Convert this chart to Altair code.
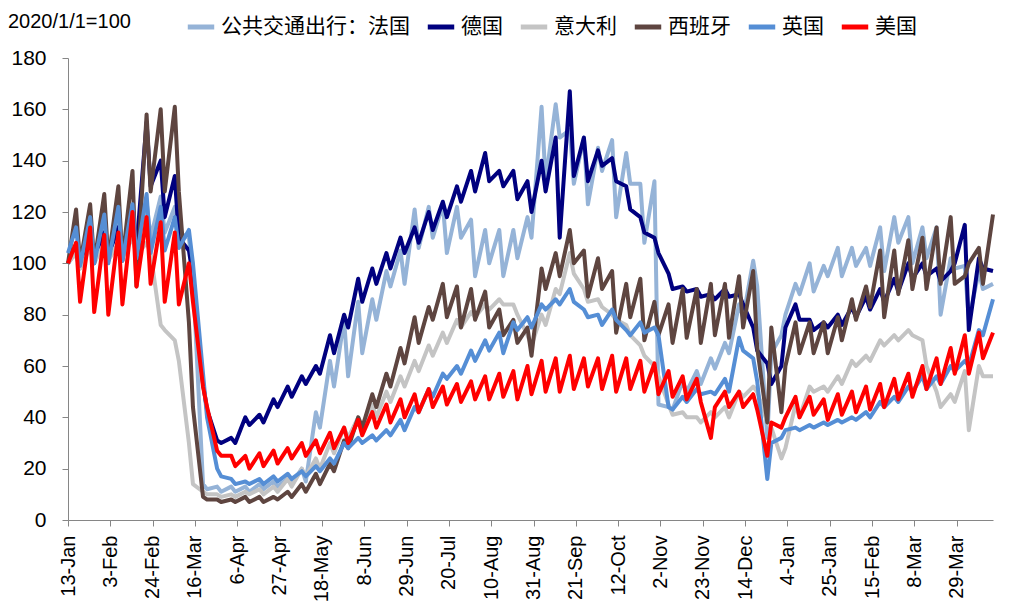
import datetime as dt
import altair as alt
import pandas as pd

# ---- series names (legend order) and colours ----
series = ["公共交通出行：法国", "德国", "意大利", "西班牙", "英国", "美国"]
colors = ["#95B3D7", "#00007F", "#C4C4C4", "#5E4540", "#558ED5", "#FF0000"]
index_note = ["2020/1/1=100"]

# value on Mon 13-Jan-2020 (first point)
start = [102, 100, 100, 100, 104, 100]

# weekly readings: Friday value and Sunday value of each week (weeks start Mon 13-Jan-2020)
france_fri = [103, 112, 114, 116, 118, 124, 126, 122, 110, 14,
              13, 13, 13, 14, 15, 16, 20, 42, 62, 78,
              85, 86, 97, 105, 121, 122, 123, 122, 117, 113,
              113, 113, 118, 161, 162, 152, 149, 145, 148, 143,
              131, 132, 44, 54, 58, 63, 69, 84, 101, 32,
              72, 92, 100, 99, 106, 106, 106, 114, 118, 118,
              114, 114, 102, 99, 97, 92]
france_sun = [98, 102, 104, 104, 106, 110, 112, 112, 95, 12,
              11, 11, 11, 12, 13, 14, 15, 36, 52, 56,
              65, 78, 91, 92, 106, 110, 104, 110, 95, 100,
              95, 102, 110, 132, 149, 131, 123, 136, 118, 131,
              108, 45, 43, 50, 53, 59, 65, 79, 91, 65,
              80, 88, 89, 95, 95, 99, 99, 97, 108, 100,
              102, 80, 98, 78, 90]

germany_fri = [105, 110, 112, 114, 118, 155, 140, 134, 105, 53,
               31, 32, 40, 41, 47, 52, 56, 60, 72, 80,
               94, 98, 104, 110, 114, 120, 124, 130, 136, 143,
               136, 136, 132, 140, 149, 167, 149, 144, 141, 130,
               118, 110, 96, 91, 90, 88, 90, 88, 75, 61,
               60, 84, 78, 77, 80, 83, 87, 90, 94, 100,
               100, 98, 97, 115, 102, 97]
germany_sun = [100, 101, 103, 104, 106, 130, 118, 110, 95, 43,
               30, 30, 37, 38, 44, 48, 53, 57, 65, 75,
               85, 92, 98, 104, 108, 113, 118, 124, 128, 132,
               130, 125, 120, 128, 110, 134, 132, 138, 132, 121,
               112, 104, 90, 89, 87, 86, 87, 84, 66, 53,
               75, 78, 74, 75, 76, 79, 82, 85, 89, 94,
               95, 93, 100, 74, 98]

italy_fri = [104, 106, 108, 108, 110, 108, 76, 70, 30, 11,
             10, 10, 11, 12, 13, 16, 20, 24, 30, 36,
             40, 45, 50, 56, 62, 68, 73, 78, 81, 84,
             86, 84, 72, 80, 90, 104, 90, 86, 80, 76,
             68, 60, 45, 42, 40, 42, 44, 50, 52, 38,
             24, 45, 52, 52, 56, 62, 64, 70, 72, 74,
             70, 50, 49, 58, 60, 56]
italy_sun = [98, 100, 101, 102, 103, 104, 74, 62, 14, 10,
             9, 9, 10, 10, 11, 13, 17, 20, 26, 32,
             36, 40, 46, 52, 58, 64, 69, 75, 79, 82,
             84, 80, 68, 76, 88, 96, 85, 83, 78, 72,
             64, 56, 41, 40, 38, 40, 40, 48, 50, 36,
             28, 40, 50, 50, 53, 60, 62, 68, 70, 72,
             60, 44, 46, 35, 56]

spain_fri = [121, 123, 127, 130, 136, 158, 160, 161, 77, 9,
             8, 8, 9, 9, 9, 11, 14, 18, 22, 31,
             40, 49, 57, 67, 79, 83, 92, 91, 90, 89,
             82, 78, 75, 98, 104, 113, 105, 102, 97, 92,
             94, 85, 84, 90, 90, 92, 92, 95, 97, 38,
             42, 77, 77, 77, 79, 86, 91, 105, 105, 109,
             110, 114, 118, 95, 106, 119]
spain_sun = [100, 100, 101, 101, 91, 128, 128, 128, 44, 8,
             7, 7, 7, 7, 8, 9, 11, 14, 19, 28,
             36, 44, 52, 61, 69, 78, 79, 75, 78, 75,
             72, 69, 64, 90, 95, 100, 87, 90, 73, 79,
             70, 72, 69, 71, 69, 72, 71, 75, 67, 75,
             60, 65, 65, 65, 70, 78, 83, 79, 88, 90,
             90, 92, 92, 100, 92]

uk_fri = [114, 118, 119, 122, 123, 127, 122, 118, 113, 57,
          20, 16, 15, 16, 17, 18, 19, 21, 24, 30,
          32, 33, 35, 39, 44, 51, 57, 60, 66, 70,
          73, 77, 79, 84, 86, 90, 82, 80, 82, 74,
          77, 75, 44, 48, 51, 50, 55, 71, 63, 16,
          32, 36, 37, 38, 39, 40, 42, 46, 48, 52,
          56, 56, 60, 62, 74, 86]
uk_sun = [99, 100, 100, 101, 102, 104, 105, 106, 100, 40,
          17, 14, 14, 14, 15, 16, 17, 19, 22, 28,
          30, 31, 33, 35, 42, 48, 55, 57, 62, 66,
          65, 74, 75, 82, 84, 85, 79, 76, 78, 72,
          73, 72, 43, 46, 49, 49, 50, 66, 54, 30,
          35, 35, 36, 37, 38, 39, 40, 44, 46, 50,
          51, 53, 58, 60, 72]

us_fri = [108, 114, 111, 112, 120, 118, 116, 112, 100, 52,
          27, 25, 25, 26, 27, 28, 30, 31, 34, 36,
          39, 42, 45, 47, 49, 51, 52, 53, 54, 56,
          57, 58, 60, 62, 63, 64, 63, 63, 64, 63,
          62, 61, 58, 56, 55, 32, 50, 50, 49, 25,
          36, 48, 48, 47, 49, 50, 52, 53, 55, 57,
          60, 63, 67, 72, 73, 73]
us_sun = [85, 81, 80, 84, 91, 92, 85, 84, 85, 44,
          25, 21, 20, 21, 22, 24, 25, 26, 28, 30,
          33, 36, 38, 40, 42, 44, 45, 46, 47, 47,
          48, 47, 49, 50, 50, 51, 52, 51, 50, 51,
          50, 49, 48, 47, 46, 44, 44, 44, 43, 38,
          40, 40, 41, 39, 41, 42, 43, 44, 47, 48,
          51, 53, 57, 57, 63]

# x-axis tick labels (every 21 days)
tick_dates = ["2020-01-13", "2020-02-03", "2020-02-24", "2020-03-16", "2020-04-06",
              "2020-04-27", "2020-05-18", "2020-06-08", "2020-06-29", "2020-07-20",
              "2020-08-10", "2020-08-31", "2020-09-21", "2020-10-12", "2020-11-02",
              "2020-11-23", "2020-12-14", "2021-01-04", "2021-01-25", "2021-02-15",
              "2021-03-08", "2021-03-29"]

fri_all = [france_fri, germany_fri, italy_fri, spain_fri, uk_fri, us_fri]
sun_all = [france_sun, germany_sun, italy_sun, spain_sun, uk_sun, us_sun]

first_monday = dt.date(2020, 1, 13)
rows = []
for i, name in enumerate(series):
    rows.append({"date": first_monday.isoformat(), "value": start[i], "series": name})
    for k, v in enumerate(fri_all[i]):
        d = first_monday + dt.timedelta(days=7 * k + 4)
        rows.append({"date": d.isoformat(), "value": v, "series": name})
    for k, v in enumerate(sun_all[i]):
        d = first_monday + dt.timedelta(days=7 * k + 6)
        rows.append({"date": d.isoformat(), "value": v, "series": name})
df = pd.DataFrame(rows)


def ymd(s):
    y, m, d = (int(t) for t in s.split("-"))
    return alt.DateTime(year=y, month=m, date=d, utc=True)


AXIS_FONT = "Liberation Sans"

lines = alt.Chart(df).mark_line(strokeWidth=4, strokeJoin="round").encode(
    x=alt.X(
        "date:T",
        scale=alt.Scale(type="utc", domain=[ymd("2020-01-13"), ymd("2021-04-16")]),
        axis=alt.Axis(
            values=[ymd(t) for t in tick_dates],
            format="%-d-%b",
            labelAngle=270,
            labelFont=AXIS_FONT,
            labelFontSize=20,
            labelColor="#000000",
            labelPadding=9,
            labelOverlap=False,
            labelFlush=False,
            tickSize=6,
            tickColor="#868686",
            domainColor="#868686",
            grid=False,
            title=None,
        ),
    ),
    y=alt.Y(
        "value:Q",
        scale=alt.Scale(domain=[0, 180], nice=False),
        axis=alt.Axis(
            values=list(range(0, 181, 20)),
            labelFont=AXIS_FONT,
            labelFontSize=21,
            labelColor="#000000",
            labelPadding=16,
            tickSize=6,
            tickColor="#868686",
            domainColor="#868686",
            grid=False,
            title=None,
        ),
    ),
    color=alt.Color(
        "series:N",
        scale=alt.Scale(domain=series, range=colors),
        sort=series,
        legend=alt.Legend(
            orient="none",
            legendX=117,
            legendY=-47,
            direction="horizontal",
            title=None,
            symbolType="stroke",
            symbolSize=700,
            symbolStrokeWidth=5,
            labelFont="Noto Sans CJK SC",
            labelFontSize=21,
            labelColor="#000000",
            labelOffset=4,
            labelLimit=400,
            columnPadding=7,
        ),
    ),
    detail="series:N",
    order=alt.Order("date:T"),
)

note = alt.Chart(pd.DataFrame({"t": index_note})).mark_text(
    align="left",
    baseline="middle",
    font=AXIS_FONT,
    fontSize=20,
    color="#000000",
).encode(
    x=alt.value(-60),
    y=alt.value(-36),
    text="t:N",
)

chart = alt.layer(lines, note).properties(
    width=925,
    height=462,
    autosize="none",
    padding={"left": 60, "top": 50, "right": 10, "bottom": 86},
).configure_view(stroke=None)

chart.save("out.html", embed_options={"renderer": "svg", "actions": False})
